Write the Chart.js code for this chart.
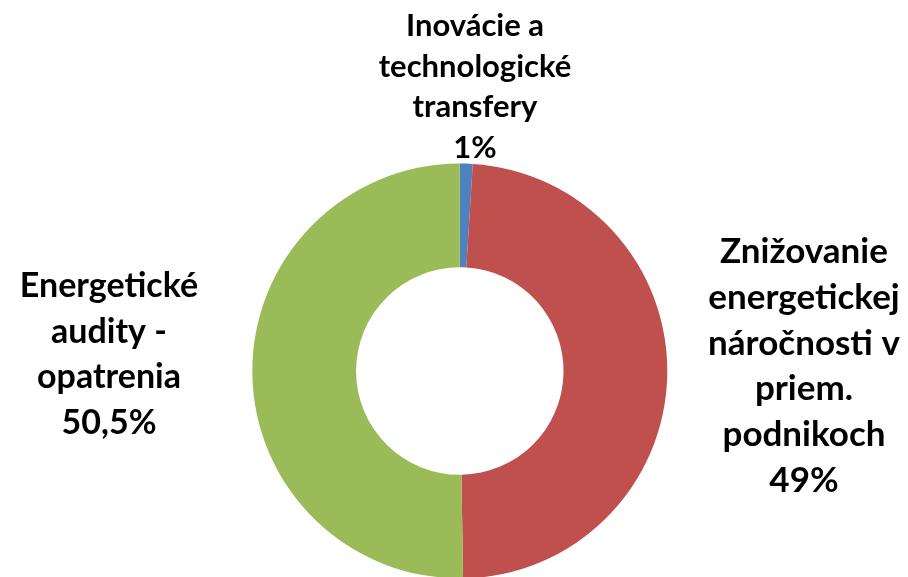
<!DOCTYPE html>
<html>
<head>
<meta charset="utf-8">
<script src="https://cdn.jsdelivr.net/npm/chart.js@4/dist/chart.umd.min.js"></script>
<style>
  html, body { margin: 0; padding: 0; background: #fff; overflow: hidden; }
  #wrap { width: 908px; height: 577px; overflow: hidden; }
</style>
</head>
<body>
<div id="wrap"><canvas id="chart" width="908" height="600"></canvas></div>
<script>
// data
const categories = ['Inovácie a technologické transfery', 'Znižovanie energetickej náročnosti v priem. podnikoch', 'Energetické audity - opatrenia'];
const values = [1, 49, 50.5];
const percentLabels = ['1%', '49%', '50,5%'];
const labelLines = [
    ['Inovácie a', 'technologické', 'transfery'],
    ['Znižovanie', 'energetickej', 'náročnosti v', 'priem.', 'podnikoch'],
    ['Energetické', 'audity -', 'opatrenia'],
];
const colors = ['#4F81BD', '#C0504D', '#9BBB59'];

// where each label block sits: centre x, first baseline, line gap, font size
const labelPlace = [
    { x: 475, y: 36, gap: 40.5, size: 31 },
    { x: 804, y: 263, gap: 45.8, size: 35 },
    { x: 109, y: 297, gap: 45.5, size: 34 },
];

const outsideLabels = {
    id: 'outsideLabels',
    afterDraw(chart) {
        const ctx = chart.ctx;
        ctx.save();
        ctx.fillStyle = '#000';
        ctx.textAlign = 'center';
        ctx.textBaseline = 'alphabetic';
        labelLines.forEach((lines, i) => {
            const p = labelPlace[i];
            ctx.font = 'bold ' + p.size + 'px Lato';
            const all = lines.concat([percentLabels[i]]);
            all.forEach((t, j) => ctx.fillText(t, p.x, p.y + j * p.gap));
        });
        ctx.restore();
    },
};

new Chart(document.getElementById('chart'), {
    type: 'doughnut',
    data: {
        labels: categories,
        datasets: [{
            data: values,
            backgroundColor: colors,
            borderWidth: 0,
        }],
    },
    options: {
        responsive: false,
        animation: false,
        cutout: '50%',
        layout: { padding: { top: 163.5, left: 252.3, right: 240.7, bottom: 21.5 } },
        plugins: {
            legend: { display: false },
            tooltip: { enabled: false },
        },
    },
    plugins: [outsideLabels],
});
</script>
</body>
</html>
